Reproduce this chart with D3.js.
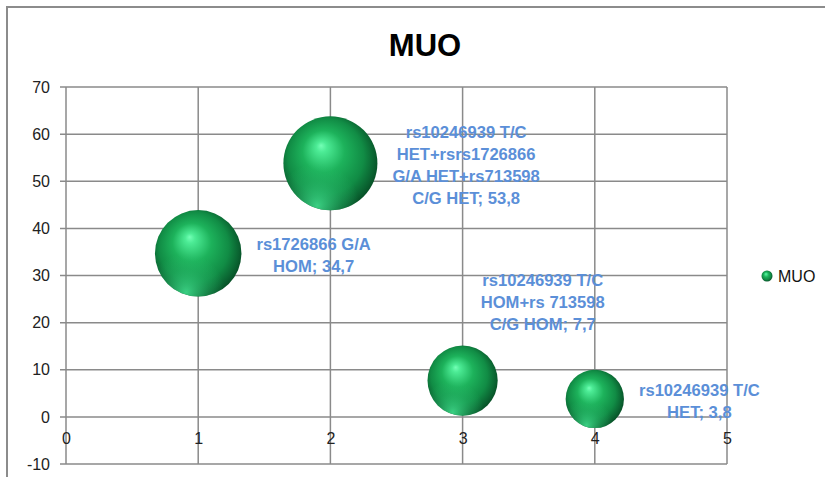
<!DOCTYPE html>
<html>
<head>
<meta charset="utf-8">
<script src="https://cdn.jsdelivr.net/npm/d3@7/dist/d3.min.js"></script>
<style>
  html, body { margin: 0; padding: 0; background: #ffffff; }
  svg { display: block; }
</style>
</head>
<body>
<svg id="chart" width="825" height="477"></svg>
<script>
// Series "MUO": genotype combinations, x position, percentage and bubble size
const seriesName = "MUO";
const xValues = [1, 2, 3, 4];
const yValues = [34.7, 53.8, 7.7, 3.8];
const bubbleSizes = [22, 26, 14.5, 10];
const genotypeLabels = [
  ["rs1726866 G/A", "HOM"],
  ["rs10246939 T/C", "HET+rsrs1726866", "G/A HET+rs713598", "C/G HET"],
  ["rs10246939 T/C", "HOM+rs 713598", "C/G HOM"],
  ["rs10246939 T/C", "HET"]
];
const xTicks = [0, 1, 2, 3, 4, 5];
const yTicks = [-10, 0, 10, 20, 30, 40, 50, 60, 70];

const fmt = v => String(v).replace(".", ",");

const svg = d3.select("#chart");
const W = 825, H = 477;
const plot = { left: 66, right: 727, top: 87, bottom: 464 };

const x = d3.scaleLinear().domain([0, 5]).range([plot.left, plot.right]);
const y = d3.scaleLinear().domain([-10, 70]).range([plot.bottom, plot.top]);
const r = d3.scaleSqrt().domain([0, d3.max(bubbleSizes)]).range([0, 47]);

// gradients for the sphere look
const defs = svg.append("defs");
const g1 = defs.append("radialGradient").attr("id", "sphere")
  .attr("cx", "0.47").attr("cy", "0.47").attr("r", "0.56")
  .attr("fx", "0.40").attr("fy", "0.31");
[[0, "#74ffb6"], [0.1, "#4ceb95"], [0.4, "#1db25b"], [0.72, "#118c45"], [0.9, "#0a6331"], [1, "#064a23"]]
  .forEach(([o, c]) => g1.append("stop").attr("offset", o).attr("stop-color", c));
const g2 = defs.append("radialGradient").attr("id", "rim")
  .attr("cx", "0.36").attr("cy", "0.95").attr("r", "0.45");
[[0, "#40dc8c", 0.9], [0.6, "#2cc070", 0.35], [1, "#2cc070", 0]]
  .forEach(([o, c, a]) => g2.append("stop").attr("offset", o).attr("stop-color", c).attr("stop-opacity", a));

// chart frame
svg.append("rect")
  .attr("x", 7).attr("y", 7).attr("width", W + 20).attr("height", H + 20)
  .attr("fill", "none").attr("stroke", "#8c8c8c").attr("stroke-width", 2);

// title
svg.append("text")
  .attr("x", 425).attr("y", 56)
  .attr("text-anchor", "middle")
  .attr("font-family", "Liberation Sans, Arial, sans-serif")
  .attr("font-weight", "bold").attr("font-size", 31)
  .attr("fill", "#000").text(seriesName);

// gridlines
const grid = svg.append("g").attr("stroke", "#8a8a8a").attr("stroke-width", 1.5);
grid.selectAll("line.h").data(yTicks).join("line")
  .attr("x1", plot.left - 6).attr("x2", plot.right)
  .attr("y1", d => y(d)).attr("y2", d => y(d));
grid.selectAll("line.v").data(xTicks).join("line")
  .attr("x1", d => x(d)).attr("x2", d => x(d))
  .attr("y1", plot.top).attr("y2", plot.bottom);

// y axis labels
const yAxis = d3.axisLeft(y).tickValues(yTicks).tickSize(0).tickPadding(16).tickFormat(d => String(d));
svg.append("g").attr("transform", `translate(${plot.left},0)`).call(yAxis)
  .call(g => g.select(".domain").remove())
  .selectAll("text")
  .attr("font-family", "Liberation Sans, Arial, sans-serif")
  .attr("font-size", 16).attr("fill", "#222");

// x axis labels, axis crossing at y = 0
const xAxis = d3.axisBottom(x).tickValues(xTicks).tickSize(0).tickPadding(16).tickFormat(d => String(d));
svg.append("g").attr("transform", `translate(0,${y(0)})`).call(xAxis)
  .call(g => g.select(".domain").remove())
  .selectAll("text")
  .attr("font-family", "Liberation Sans, Arial, sans-serif")
  .attr("font-size", 16).attr("fill", "#222");

// bubbles
const data = xValues.map((xv, i) => ({
  x: xv, y: yValues[i], size: bubbleSizes[i], lines: genotypeLabels[i]
}));
const bubbles = svg.append("g");
bubbles.selectAll("circle.ball").data(data).join("circle")
  .attr("cx", d => x(d.x)).attr("cy", d => y(d.y)).attr("r", d => r(d.size))
  .attr("fill", "url(#sphere)");
bubbles.selectAll("circle.rim").data(data).join("circle")
  .attr("cx", d => x(d.x)).attr("cy", d => y(d.y)).attr("r", d => r(d.size))
  .attr("fill", "url(#rim)");

// data labels placed right of each bubble; third label is lifted above its bubble
const labelShift = [[0, 0], [0, 0], [-32, -81], [0, 0]];
const lineH = 22;
const labels = svg.append("g")
  .attr("font-family", "Liberation Sans, Arial, sans-serif")
  .attr("font-weight", "bold").attr("font-size", 16.6)
  .attr("fill", "#5b8fd8").attr("text-anchor", "middle");
data.forEach((d, i) => {
  const lines = d.lines.slice();
  lines[lines.length - 1] += "; " + fmt(d.y);
  const t = labels.append("text");
  lines.forEach((ln, k) => t.append("tspan").attr("x", 0).attr("y", k * lineH).text(ln));
  const bw = t.node().getBBox().width;
  const left = x(d.x) + r(d.size) + 15 + labelShift[i][0];
  const cx = left + bw / 2;
  const top = y(d.y) - (lines.length * lineH) / 2 + labelShift[i][1];
  t.selectAll("tspan")
    .attr("x", cx)
    .attr("y", (s, k) => top + lineH * k + 19);
});

// legend
const legend = svg.append("g");
legend.append("circle").attr("cx", 767).attr("cy", 276).attr("r", 5.5).attr("fill", "url(#sphere)");
legend.append("text").attr("x", 778).attr("y", 282)
  .attr("font-family", "Liberation Sans, Arial, sans-serif")
  .attr("font-size", 16).attr("fill", "#111").text(seriesName);
</script>
</body>
</html>
